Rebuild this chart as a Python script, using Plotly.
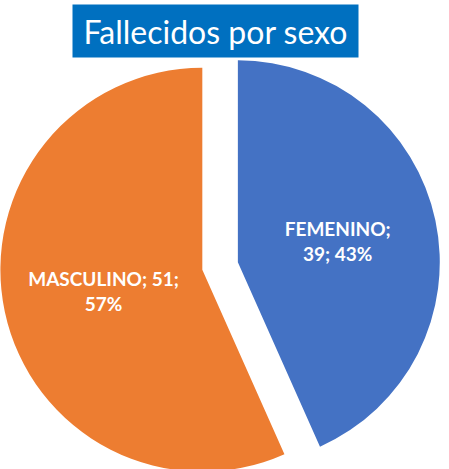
import plotly.graph_objects as go

labels = ["FEMENINO", "MASCULINO"]
values = [39, 51]
colors = ["#4472C4", "#ED7D31"]
templates = ["%{label};<br>%{value}; %{percent:.0%}", "%{label}; %{value};<br>%{percent:.0%}"]
title_text = "Fallecidos por sexo"

W, H = 449, 490
cx, cy, r, pull = 220, 266, 202, 0.09
S = 2 * r * (1 + pull)
x0, x1 = (cx - S / 2) / W, (cx + S / 2) / W
y0, y1 = (H - (cy + S / 2)) / H, (H - (cy - S / 2)) / H

fig = go.Figure(go.Pie(
    labels=labels, values=values, sort=False, direction="clockwise", rotation=0,
    pull=[pull, pull], marker=dict(colors=colors, line=dict(width=0)),
    texttemplate=templates, textposition="inside", insidetextorientation="horizontal",
    textfont=dict(family="Lato", size=19, color="white", weight="bold"),
    domain=dict(x=[max(0, x0), min(1, x1)], y=[max(0, y0), min(1, y1)]),
    showlegend=False, hoverinfo="label+value+percent",
))

fig.add_annotation(
    x=(74 + 357) / 2 / W, y=1 - 31 / H, xref="paper", yref="paper",
    text=title_text, showarrow=False, bgcolor="#0070C0",
    font=dict(family="Lato", size=32, color="white"),
    width=283, height=50, xanchor="center", yanchor="middle",
)

fig.update_layout(
    width=W, height=H, margin=dict(l=0, r=0, t=0, b=0),
    paper_bgcolor="white", plot_bgcolor="white",
)

fig.write_html("out.html", config={"displayModeBar": False},
               post_script="document.body.style.overflow='hidden';document.documentElement.style.overflow='hidden';document.body.style.margin='0';")
